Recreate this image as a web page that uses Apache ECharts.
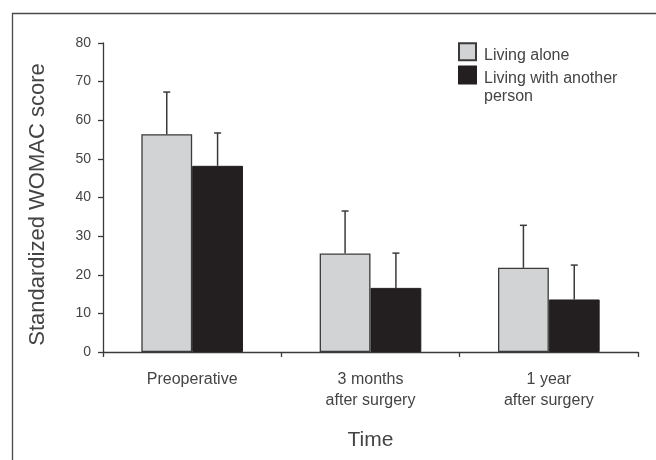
<!DOCTYPE html>
<html>
<head>
<meta charset="utf-8">
<script src="https://cdn.jsdelivr.net/npm/echarts@6/dist/echarts.min.js"></script>
<style>
html,body{margin:0;padding:0;background:#fff;}
#chart{width:656px;height:460px;}
</style>
</head>
<body>
<div id="chart"></div>
<script>
var categories = ['Preoperative', '3 months\nafter surgery', '1 year\nafter surgery'];
var seriesNames = ['Living alone', 'Living with another person'];
var aloneMean = [56.4, 25.5, 21.8];
var aloneErr = [10.9, 11.0, 11.0];
var withMean = [48.2, 16.6, 13.6];
var withErr = [8.5, 9.0, 8.9];
var yTicks = [0, 10, 20, 30, 40, 50, 60, 70, 80];

var FONT = '"Liberation Sans", Arial, sans-serif';
var INK = '#3a3a3a';
var GAP = 0.43;

function errData(means, errs) {
  return means.map(function (m, i) { return [i, m, errs[i]]; });
}
function errRender(side) {
  return function (params, api) {
    var idx = api.value(0), v = api.value(1), e = api.value(2);
    var band = api.size([1, 0])[0];
    var bw = band * (1 - GAP) / 2;
    var p0 = api.coord([idx, v]);
    var p1 = api.coord([idx, v + e]);
    var x = p0[0] + side * bw / 2;
    return {
      type: 'group',
      children: [
        {type: 'line', shape: {x1: x, y1: p0[1], x2: x, y2: p1[1]}, style: {stroke: INK, lineWidth: 1.5}},
        {type: 'line', shape: {x1: x - 3.5, y1: p1[1], x2: x + 3.5, y2: p1[1]}, style: {stroke: INK, lineWidth: 1.5}}
      ]
    };
  };
}

var legendRich = {
  s1: {fontSize: 1, lineHeight: 7},
  s2: {fontSize: 1, lineHeight: 25},
  t: {fontFamily: FONT, fontSize: 16, lineHeight: 18.5, color: '#444', padding: [0, 0, 0, 3]}
};
function legendFor(name, top) {
  return {
    orient: 'vertical',
    left: 458, top: top,
    padding: 0,
    itemWidth: 17, itemHeight: 17,
    icon: 'rect',
    selectedMode: false,
    formatter: function (n) {
      if (n === seriesNames[1]) {
        return '{s2| }\n{t|Living with another}\n{t|person}';
      }
      return '{s1| }\n{t|' + n + '}';
    },
    textStyle: {fontFamily: FONT, fontSize: 16, color: '#444', rich: legendRich},
    data: [{name: name}]
  };
}

var chart = echarts.init(document.getElementById('chart'), null, {renderer: 'canvas'});
chart.setOption({
  animation: false,
  backgroundColor: '#fff',
  textStyle: {fontFamily: FONT},
  graphic: [{
    type: 'rect', left: 10, top: 11, silent: true,
    shape: {x: 0, y: 0, width: 700, height: 500},
    style: {fill: 'none', stroke: '#4a4a4a', lineWidth: 1.3}
  }],
  legend: [legendFor(seriesNames[0], 42), legendFor(seriesNames[1], 56)],
  grid: {left: 103, right: 18, top: 43, bottom: 108},
  xAxis: {
    type: 'category',
    data: categories,
    name: 'Time',
    nameLocation: 'middle',
    nameGap: 78,
    nameTextStyle: {fontFamily: FONT, fontSize: 21, color: '#444', verticalAlign: 'top'},
    axisLine: {lineStyle: {color: INK, width: 1.3}},
    axisTick: {show: true, length: 5, lineStyle: {color: INK, width: 1.3}},
    axisLabel: {fontFamily: FONT, fontSize: 16, color: '#444', margin: 17, lineHeight: 21}
  },
  yAxis: {
    type: 'value',
    min: yTicks[0], max: yTicks[yTicks.length - 1], interval: 10,
    name: 'Standardized WOMAC score',
    nameLocation: 'middle',
    nameGap: 54,
    nameTextStyle: {fontFamily: FONT, fontSize: 22, color: '#444', padding: [0, 14, 0, 0]},
    axisLine: {show: true, lineStyle: {color: INK, width: 1.3}},
    axisTick: {show: true, length: 5, lineStyle: {color: INK, width: 1.3}},
    axisLabel: {fontFamily: FONT, fontSize: 14, color: '#444', margin: 12},
    splitLine: {show: false}
  },
  series: [
    {
      name: seriesNames[0], type: 'bar', data: aloneMean,
      barGap: '0%', barCategoryGap: (GAP * 100) + '%',
      itemStyle: {color: '#d1d3d4', borderColor: INK, borderWidth: 1.3},
      z: 2
    },
    {
      name: seriesNames[1], type: 'bar', data: withMean,
      barGap: '0%', barCategoryGap: (GAP * 100) + '%',
      itemStyle: {color: '#231f20', borderColor: '#231f20', borderWidth: 1},
      z: 2
    },
    {
      type: 'custom', name: 'err-alone', data: errData(aloneMean, aloneErr),
      encode: {x: 0, y: 1}, renderItem: errRender(-1), z: 5, silent: true
    },
    {
      type: 'custom', name: 'err-with', data: errData(withMean, withErr),
      encode: {x: 0, y: 1}, renderItem: errRender(1), z: 5, silent: true
    }
  ]
});
</script>
</body>
</html>
